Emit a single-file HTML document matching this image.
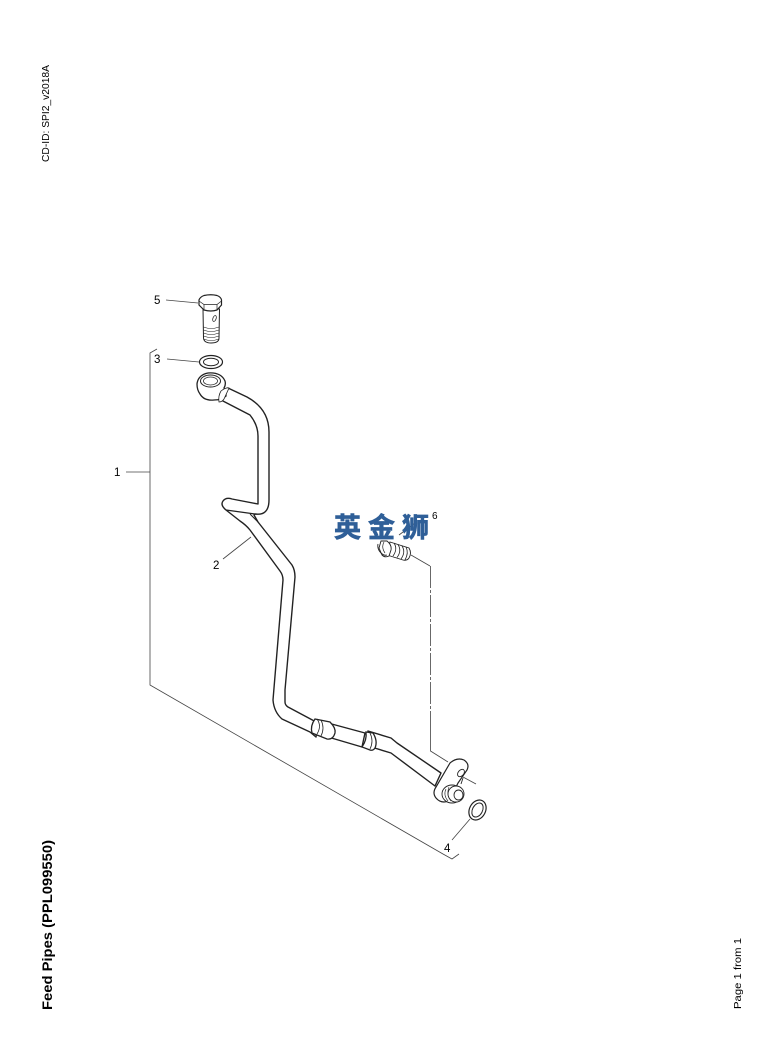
<!DOCTYPE html>
<html>
<head>
<meta charset="utf-8">
<style>
html,body{margin:0;padding:0;background:#fff;}
svg{display:block;}
text{font-family:"Liberation Sans","Noto Sans CJK SC",sans-serif;fill:#000;}
</style>
</head>
<body>
<svg width="765" height="1055" viewBox="0 0 765 1055" xmlns="http://www.w3.org/2000/svg">
<rect width="765" height="1055" fill="#fff"/>

<!-- side texts -->
<text transform="translate(49,162) rotate(-90)" font-size="10.500" textLength="97" lengthAdjust="spacingAndGlyphs">CD-ID: SPI2_v2018A</text>
<text transform="translate(52,1010) rotate(-90)" font-size="14" font-weight="bold" textLength="170" lengthAdjust="spacingAndGlyphs">Feed Pipes (PPL099550)</text>
<text transform="translate(741,1009) rotate(-90)" font-size="10.500" textLength="71" lengthAdjust="spacingAndGlyphs">Page 1 from 1</text>

<!-- thin leaders -->
<g fill="none" stroke="#444" stroke-width="0.8">
  <path d="M157,349 L150,353 L150,685 L443,854 L452,859 L459,854"/>
  <path d="M126,472 H150"/>
  <path d="M166,300 L198,303"/>
  <path d="M167,359 L199,362"/>
  <path d="M223,559 L251,537"/>
  <path d="M452,840 L470,819"/>
  <path d="M399,535 L415,523"/>
  <path d="M411,555 L430,566"/>
  <path d="M430.5,566 V733" stroke-dasharray="22 2 3 2"/>
  <path d="M430.5,733 V751 L448,762"/>
  <path d="M463,777 L476,784"/>
</g>

<!-- labels -->
<g font-size="11.500">
  <text x="154" y="304">5</text>
  <text x="154" y="363">3</text>
  <text x="114" y="476">1</text>
  <text x="213" y="569">2</text>
  <text x="444" y="852">4</text>
  <text x="432" y="519" font-size="10">6</text>
</g>

<!-- watermark -->
<text x="334" y="537" font-size="27" font-weight="bold" letter-spacing="7" stroke="#2f5f98" stroke-width="0.7" style="fill:#2f5f98;font-family:'Noto Sans CJK SC','Liberation Sans',sans-serif">英金狮</text>

<!-- hex bolt 5 -->
<g fill="#fff" stroke="#222" stroke-width="1">
  <path d="M203,309 L203.5,338 Q204,343 211,343 Q219,343 219,338 L219.5,309 Z"/>
  <path d="M199,300 Q200,297 204,295.500 Q211,294 217,295.500 Q221,297 221.500,300 V305 L217,310 Q211,312 204,310 L199,305 Z" stroke-width="1.200"/>
  <path d="M199,301 L204,304.500 H217 L221.500,301 M204,304.500 V310 M217,304.500 V310" stroke-width="0.700"/>
  <ellipse cx="214.500" cy="318.500" rx="1.600" ry="3" transform="rotate(20 214.500 318.500)" stroke-width="0.800"/>
  <path d="M203.500,327 Q211,330 219,327 M203.500,330 Q211,333 219,330 M203.500,333 Q211,336 219,333 M203.500,336 Q211,339 219,336 M203.500,339 Q211,342 219,339" fill="none" stroke-width="0.600"/>
</g>

<!-- washer 3 -->
<g fill="#fff" stroke="#222">
  <ellipse cx="211" cy="362" rx="11.500" ry="6.500" stroke-width="1.200"/>
  <ellipse cx="211" cy="362" rx="7.500" ry="3.800" stroke-width="1"/>
</g>

<!-- pipe -->
<g fill="#fff" stroke="#222" stroke-width="1.400" stroke-linejoin="round">
  <path d="M228,388 L247,397 Q269,409 269,432 V500 Q269,516 255,514 L254,515 L258,522 L292,565 Q295,570 295,577 L285,690 V702 Q285,705 288,707 L318,723 L316,737 L310,732 L282,719 Q274,712 273,700 L283,580 Q283,575 280,571 L250,530 Q246,525 240,521 L226,510 Q220,505 223,501 Q226,497 232,499 L258,504 V436 Q258,425 250,415 L221,400 Z"/>
  <path d="M328,723 L365,733 L362,747 L328,737 Z"/>
  <path d="M368,731 L391,738 L397,743 L441,773 L435,786 L391,753 L368,746 Z"/>
  <path d="M226,510 L255,514" fill="none" stroke-width="1.200"/>
  <path d="M250,514 L258,522" fill="none" stroke-width="1"/>
</g>

<!-- sleeves -->
<g fill="#fff" stroke="#222" stroke-width="1.300">
  <path d="M315,719 L330,722 Q336,728 335,733 Q333,740 327,739 L312,733 Q310,726 315,719 Z"/>
  <path d="M317,719 Q322,726 317,734" fill="none" stroke-width="0.800"/>
  <path d="M321,720 Q325,728 321,736" fill="none" stroke-width="0.800"/>
  <path d="M366,732 L373,733 Q378,741 375,748 Q373,751 370,750 L362,747 Q367,740 366,732 Z"/>
  <path d="M370,733 Q374,741 370,749" fill="none" stroke-width="0.800"/>
</g>

<!-- banjo fitting -->
<g fill="#fff" stroke="#222" stroke-width="1.300">
  <path d="M197,384 Q198,375 208,373 Q221,372 225,381 Q226,385 224,388 L226,392 L226,396 Q222,400 214,400 Q204,401 200,394 Q197,390 197,384 Z"/>
  <ellipse cx="210.500" cy="381" rx="10" ry="6" stroke-width="1"/>
  <ellipse cx="210.500" cy="381" rx="7" ry="4" stroke-width="0.800"/>
  <path d="M221,391 Q226,387 229,388 L224,399 Q222,402 219,402 Q218,396 221,391 Z" stroke-width="0.800"/>
</g>

<!-- flange -->
<g fill="#fff" stroke="#222" stroke-width="1.200">
  <path d="M450,763 Q457,757 464,760 Q470,764 467,770 L458,783 L449,801 Q441,804 436,798 Q432,793 436,787 Z"/>
  <ellipse cx="461" cy="773" rx="2.800" ry="4.200" transform="rotate(40 461 773)" stroke-width="0.900"/>
  <ellipse cx="452" cy="794" rx="10" ry="9" stroke-width="0.900"/>
  <ellipse cx="456" cy="794" rx="8" ry="8" stroke-width="0.900"/>
  <ellipse cx="458.500" cy="795" rx="4.500" ry="5" stroke-width="0.900"/>
  <path d="M446,789 Q443,795 448,801 M449,787 Q446,795 451,801" fill="none" stroke-width="0.600"/>
  <path d="M461,784 L463,778" fill="none" stroke-width="0.900"/>
</g>

<!-- O-ring 4 -->
<g fill="#fff" stroke="#222">
  <ellipse cx="477.500" cy="810" rx="8" ry="10.500" transform="rotate(28 477.500 810)" stroke-width="1.200"/>
  <ellipse cx="477.500" cy="810" rx="5" ry="7.500" transform="rotate(28 477.500 810)" stroke-width="1"/>
</g>

<!-- bolt 6 -->
<g fill="#fff" stroke="#222" stroke-width="0.900">
  <path d="M390,542 L409,548 Q412,553 409,558 Q407,561 403,560 L387,555 Z"/>
  <path d="M394,543 Q398,549 393,556 M398,544.500 Q402,551 397,557.500 M402,546 Q406,552 401,559 M406,547 Q409,553 405,560" fill="none" stroke-width="0.800"/>
  <path d="M381,541 L387,541 Q392,545 391,550 L389,556 Q385,558 382,555 L379,548 Z"/>
  <path d="M378,544 Q377,549 381,553 Q384,556 387,555" fill="none"/>
  <path d="M384,542 Q381,547 385,553" fill="none" stroke-width="0.700"/>
</g>
</svg>
</body>
</html>
